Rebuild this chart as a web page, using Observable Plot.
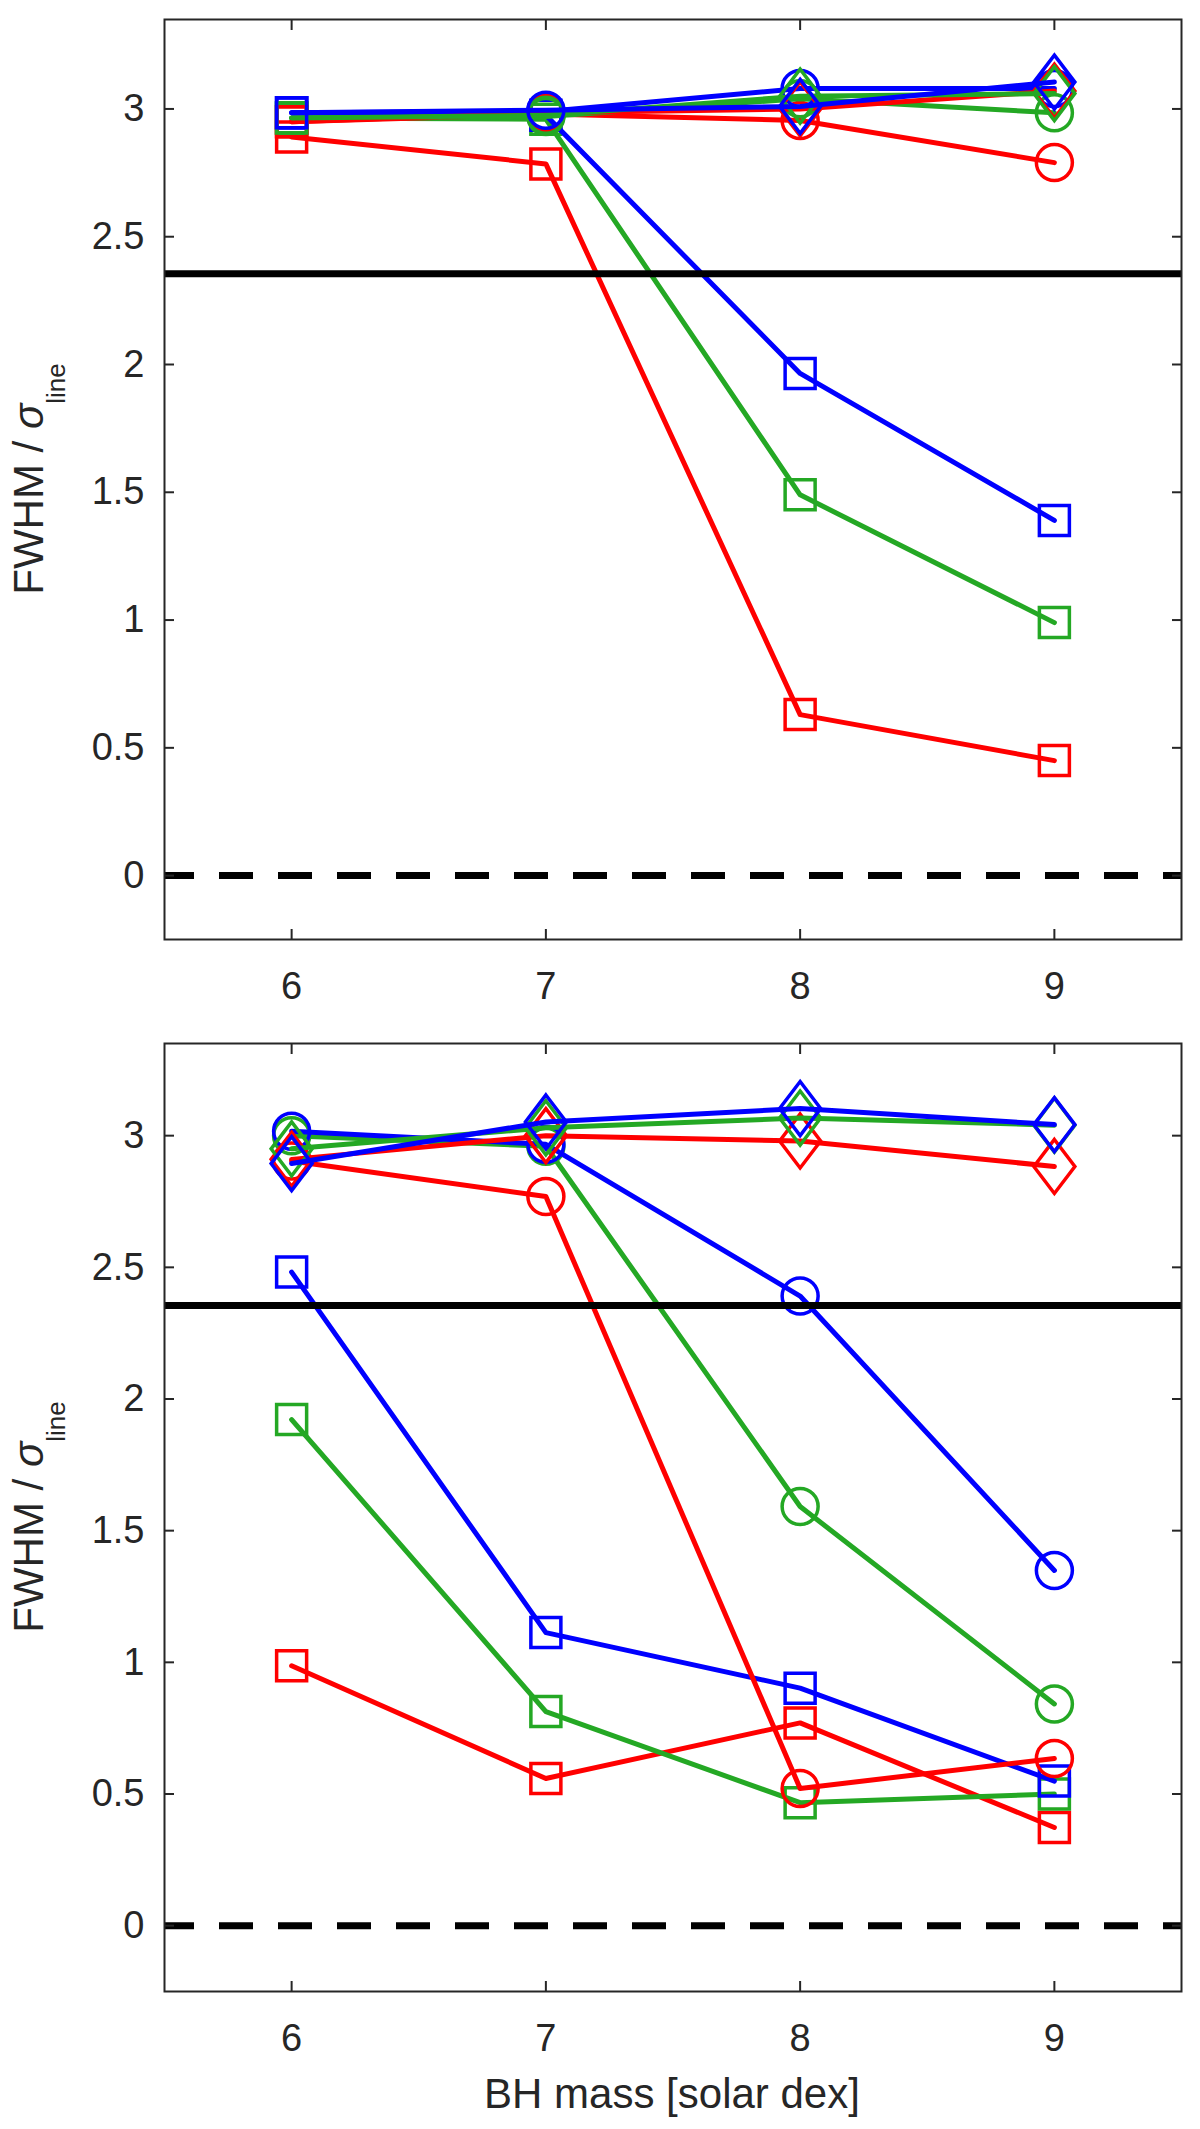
<!DOCTYPE html>
<html>
<head>
<meta charset="utf-8">
<script src="https://cdn.jsdelivr.net/npm/d3@7"></script>
<script src="https://cdn.jsdelivr.net/npm/@observablehq/plot@0.6"></script>
<style>
  body { margin: 0; background: #fff; }
  #chart svg { display: block; }
</style>
</head>
<body>
<div id="chart"></div>
<script>
const mass = [6, 7, 8, 9];
const xTicks = [6, 7, 8, 9];
const yTicks = [0, 0.5, 1, 1.5, 2, 2.5, 3];
const gaussRatio = 2.355;   // FWHM / sigma of a gaussian

// top panel
const topRedA   = [2.89, 2.785, 0.63, 0.45];
const topRedB   = [2.95, 2.98, 2.955, 2.79];
const topRedC   = [2.95, 2.985, 3.0, 3.07];
const topGreenA = [2.965, 2.96, 1.49, 0.99];
const topGreenB = [2.965, 2.97, 3.04, 2.985];
const topGreenC = [2.965, 2.975, 3.05, 3.06];
const topBlueA  = [2.985, 2.975, 1.965, 1.39];
const topBlueB  = [2.985, 2.99, 3.08, 3.08];
const topBlueC  = [2.985, 2.995, 3.01, 3.105];
const topMarkA  = ["s", "s", "s", "s"];
const topMarkB  = ["s", "o", "o", "o"];
const topMarkC  = ["s", "o", "d", "d"];

// bottom panel
const botRedA   = [0.987, 0.559, 0.77, 0.373];
const botRedB   = [2.904, 2.769, 0.521, 0.635];
const botRedC   = [2.91, 3.0, 2.98, 2.883];
const botGreenA = [1.922, 0.813, 0.467, 0.50];
const botGreenB = [3.0, 2.96, 1.592, 0.842];
const botGreenC = [2.95, 3.03, 3.067, 3.04];
const botBlueA  = [2.482, 1.113, 0.902, 0.549];
const botBlueB  = [3.017, 2.967, 2.391, 1.349];
const botBlueC  = [2.894, 3.052, 3.103, 3.042];
const botMarkA  = ["s", "s", "s", "s"];
const botMarkB  = ["o", "o", "o", "o"];
const botMarkC  = ["d", "d", "d", "d"];

const palette = {red: "#ff0000", green: "#24a824", blue: "#0000ff"};
const ink = "#262626";
const font = "'Liberation Sans', Arial, Helvetica, sans-serif";
const fmt = d3.format("~");

// matlab-ish open markers
const shapes = {
  s: {draw(p) { p.moveTo(-15, -15); p.lineTo(15, -15); p.lineTo(15, 15); p.lineTo(-15, 15); p.closePath(); }},
  o: {draw(p) { p.moveTo(18, 0); p.arc(0, 0, 18, 0, 2 * Math.PI); p.closePath(); }},
  d: {draw(p) { p.moveTo(0, -27); p.lineTo(20.5, 0); p.lineTo(0, 27); p.lineTo(-20.5, 0); p.closePath(); }}
};

function rows(values, marks, color) {
  return mass.map((m, i) => ({mass: m, value: values[i], marker: marks[i], color}));
}

function seriesMarks(s) {
  const stroke = palette[s[0].color];
  return [
    Plot.line(s, {x: "mass", y: "value", stroke, strokeWidth: 5}),
    ...Object.keys(shapes).map(k =>
      Plot.dot(s.filter(d => d.marker === k), {
        x: "mass", y: "value", stroke, strokeWidth: 3.5, fill: "none", symbol: shapes[k], r: 18
      }))
  ];
}

function panel(series, {height, marginTop, marginBottom}) {
  return Plot.plot({
    width: 1200,
    height,
    marginLeft: 164,
    marginRight: 19,
    marginTop,
    marginBottom,
    x: {domain: [5.5, 9.5]},
    y: {domain: [-0.25, 3.35]},
    style: {fontFamily: font, fontSize: "38px", color: ink, background: "white"},
    marks: [
      ...series.flatMap(seriesMarks),
      Plot.ruleY([gaussRatio], {stroke: "black", strokeWidth: 7}),
      Plot.ruleY([0], {stroke: "black", strokeWidth: 7, strokeDasharray: "34,25", strokeDashoffset: 4}),
      Plot.frame({stroke: ink, strokeWidth: 2}),
      Plot.axisX({ticks: xTicks, anchor: "bottom", tickSize: 0, tickPadding: 33, tickFormat: fmt, label: null}),
      Plot.axisX({ticks: xTicks, anchor: "bottom", tickSize: -10, fill: "none", strokeWidth: 2, label: null}),
      Plot.axisX({ticks: xTicks, anchor: "top", tickSize: -10, fill: "none", strokeWidth: 2, label: null}),
      Plot.axisY({ticks: yTicks, anchor: "left", tickSize: 0, tickPadding: 20, tickFormat: fmt, label: null}),
      Plot.axisY({ticks: yTicks, anchor: "left", tickSize: -10, fill: "none", strokeWidth: 2, label: null}),
      Plot.axisY({ticks: yTicks, anchor: "right", tickSize: -10, fill: "none", strokeWidth: 2, label: null})
    ]
  });
}

function yLabel(svg, cy) {
  const t = d3.select(svg).append("text")
    .attr("transform", `translate(43,${cy}) rotate(-90)`)
    .attr("text-anchor", "middle")
    .attr("font-family", font)
    .attr("font-size", 42)
    .attr("fill", ink);
  t.append("tspan").text("FWHM / ");
  t.append("tspan").attr("font-style", "italic").text("σ");
  t.append("tspan").attr("font-size", 26).attr("dy", 22).text("line");
}

const topChart = panel([
  rows(topRedA, topMarkA, "red"), rows(topGreenA, topMarkA, "green"), rows(topBlueA, topMarkA, "blue"),
  rows(topRedB, topMarkB, "red"), rows(topGreenB, topMarkB, "green"), rows(topBlueB, topMarkB, "blue"),
  rows(topRedC, topMarkC, "red"), rows(topGreenC, topMarkC, "green"), rows(topBlueC, topMarkC, "blue")
], {height: 1040, marginTop: 19, marginBottom: 101});
yLabel(topChart, 479);

const bottomChart = panel([
  rows(botRedA, botMarkA, "red"), rows(botGreenA, botMarkA, "green"), rows(botBlueA, botMarkA, "blue"),
  rows(botRedB, botMarkB, "red"), rows(botGreenB, botMarkB, "green"), rows(botBlueB, botMarkB, "blue"),
  rows(botRedC, botMarkC, "red"), rows(botGreenC, botMarkC, "green"), rows(botBlueC, botMarkC, "blue")
], {height: 1089, marginTop: 3, marginBottom: 138});
yLabel(bottomChart, 477);

d3.select(bottomChart).append("text")
  .attr("x", 672)
  .attr("y", 1068)
  .attr("text-anchor", "middle")
  .attr("font-family", font)
  .attr("font-size", 42)
  .attr("fill", ink)
  .text("BH mass [solar dex]");

d3.select("#chart").append(() => topChart);
d3.select("#chart").append(() => bottomChart);
</script>
</body>
</html>
